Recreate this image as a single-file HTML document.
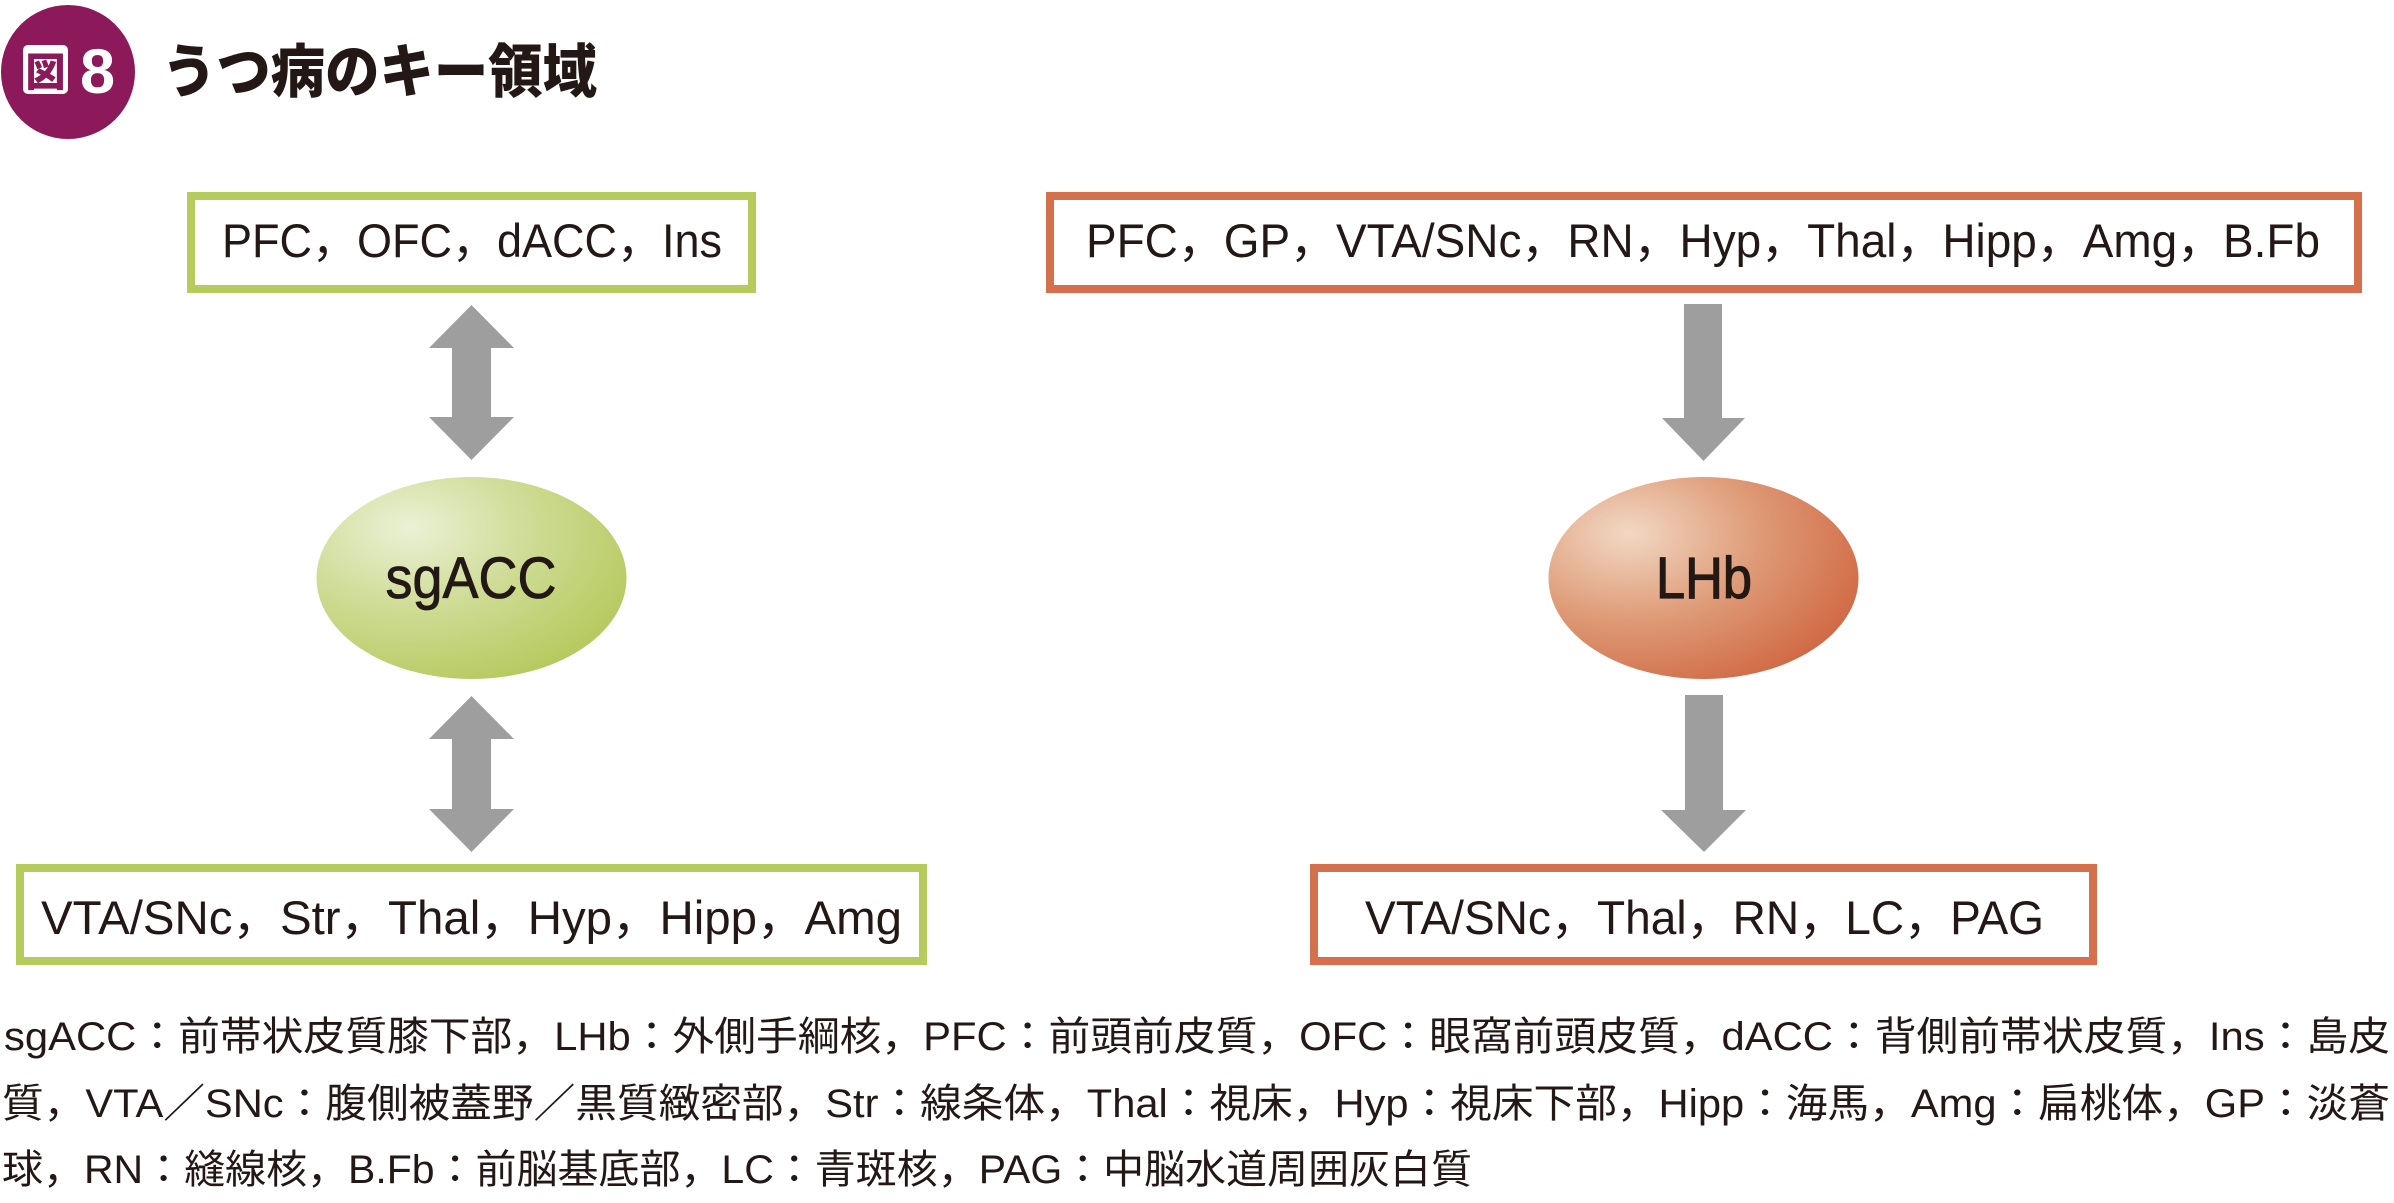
<!DOCTYPE html>
<html lang="ja">
<head>
<meta charset="utf-8">
<style>
  html,body{margin:0;padding:0;background:#fff;}
  svg{display:block;}
  text{font-family:"Liberation Sans","Noto Sans CJK JP",sans-serif;fill:#231815;}
  .jp{font-family:"Liberation Sans","Noto Sans CJK JP",sans-serif;}
</style>
</head>
<body>
<svg width="2394" height="1203" viewBox="0 0 2394 1203" xmlns="http://www.w3.org/2000/svg">
  <defs>
    <radialGradient id="gG" cx="0.3" cy="0.28" r="0.85" fx="0.3" fy="0.25">
      <stop offset="0" stop-color="#EBF1D6"/>
      <stop offset="0.45" stop-color="#CFDC96"/>
      <stop offset="1" stop-color="#B2C757"/>
    </radialGradient>
    <radialGradient id="gO" cx="0.26" cy="0.3" r="0.85" fx="0.26" fy="0.28">
      <stop offset="0" stop-color="#F2D8C4"/>
      <stop offset="0.5" stop-color="#DE9A76"/>
      <stop offset="1" stop-color="#CF6540"/>
    </radialGradient>
  </defs>

  <!-- Title badge -->
  <circle cx="68" cy="72" r="67" fill="#8C1A5B"/>
  <rect x="23" y="45" width="45" height="49" rx="5" ry="5" fill="#fff"/>
  <text x="45.5" y="86" font-size="40" font-weight="900" text-anchor="middle" style="fill:#8C1A5B" class="jp">図</text>
  <text x="97.5" y="93" font-size="63" font-weight="700" text-anchor="middle" style="fill:#fff">8</text>
  <text x="162" y="92" font-size="58" font-weight="900" textLength="435" lengthAdjust="spacingAndGlyphs" class="jp">うつ病のキー領域</text>

  <!-- Boxes -->
  <rect x="191" y="196" width="561" height="93" fill="#fff" stroke="#B5CB5C" stroke-width="8"/>
  <rect x="1050" y="196" width="1308" height="93" fill="#fff" stroke="#D4704B" stroke-width="8"/>
  <rect x="20" y="868" width="903" height="93" fill="#fff" stroke="#B5CB5C" stroke-width="8"/>
  <rect x="1314" y="868" width="779" height="93" fill="#fff" stroke="#D4704B" stroke-width="8"/>

  <text x="472" y="257" font-size="47" text-anchor="middle" textLength="500" lengthAdjust="spacingAndGlyphs">PFC，OFC，dACC，Ins</text>
  <text x="1703" y="257" font-size="47" text-anchor="middle" textLength="1234" lengthAdjust="spacingAndGlyphs">PFC，GP，VTA/SNc，RN，Hyp，Thal，Hipp，Amg，B.Fb</text>
  <text x="471.5" y="934" font-size="47" text-anchor="middle" textLength="861" lengthAdjust="spacingAndGlyphs">VTA/SNc，Str，Thal，Hyp，Hipp，Amg</text>
  <text x="1704.5" y="934" font-size="47" text-anchor="middle" textLength="679" lengthAdjust="spacingAndGlyphs">VTA/SNc，Thal，RN，LC，PAG</text>

  <!-- Arrows -->
  <g fill="#9E9E9E">
    <polygon points="471.5,305 514,348 491,348 491,417 514,417 471.5,460 429,417 452,417 452,348 429,348"/>
    <polygon points="471.5,696 514,739 491,739 491,809 514,809 471.5,852 429,809 452,809 452,739 429,739"/>
    <polygon points="1684,304 1722,304 1722,418 1745,418 1703.5,461 1662,418 1684,418"/>
    <polygon points="1685,695 1723,695 1723,810 1746,810 1704,852 1661,810 1685,810"/>
  </g>

  <!-- Ellipses -->
  <ellipse cx="471.5" cy="578" rx="155" ry="101" fill="url(#gG)"/>
  <ellipse cx="1703.5" cy="578" rx="155" ry="101" fill="url(#gO)"/>
  <text x="471" y="598" font-size="58" text-anchor="middle" textLength="171" lengthAdjust="spacingAndGlyphs" stroke="#231815" stroke-width="0.8">sgACC</text>
  <text x="1704" y="598" font-size="58" text-anchor="middle" textLength="96" lengthAdjust="spacingAndGlyphs" stroke="#231815" stroke-width="1.2">LHb</text>

  <!-- Footnote -->
  <text x="4" y="1050" font-size="40" textLength="2386" lengthAdjust="spacingAndGlyphs" class="jp">sgACC：前帯状皮質膝下部，LHb：外側手綱核，PFC：前頭前皮質，OFC：眼窩前頭皮質，dACC：背側前帯状皮質，Ins：島皮</text>
  <text x="2" y="1117" font-size="40" textLength="2388" lengthAdjust="spacingAndGlyphs" class="jp">質，VTA／SNc：腹側被蓋野／黒質緻密部，Str：線条体，Thal：視床，Hyp：視床下部，Hipp：海馬，Amg：扁桃体，GP：淡蒼</text>
  <text x="2" y="1183" font-size="40" textLength="1470" lengthAdjust="spacingAndGlyphs" class="jp">球，RN：縫線核，B.Fb：前脳基底部，LC：青斑核，PAG：中脳水道周囲灰白質</text>
</svg>
</body>
</html>
